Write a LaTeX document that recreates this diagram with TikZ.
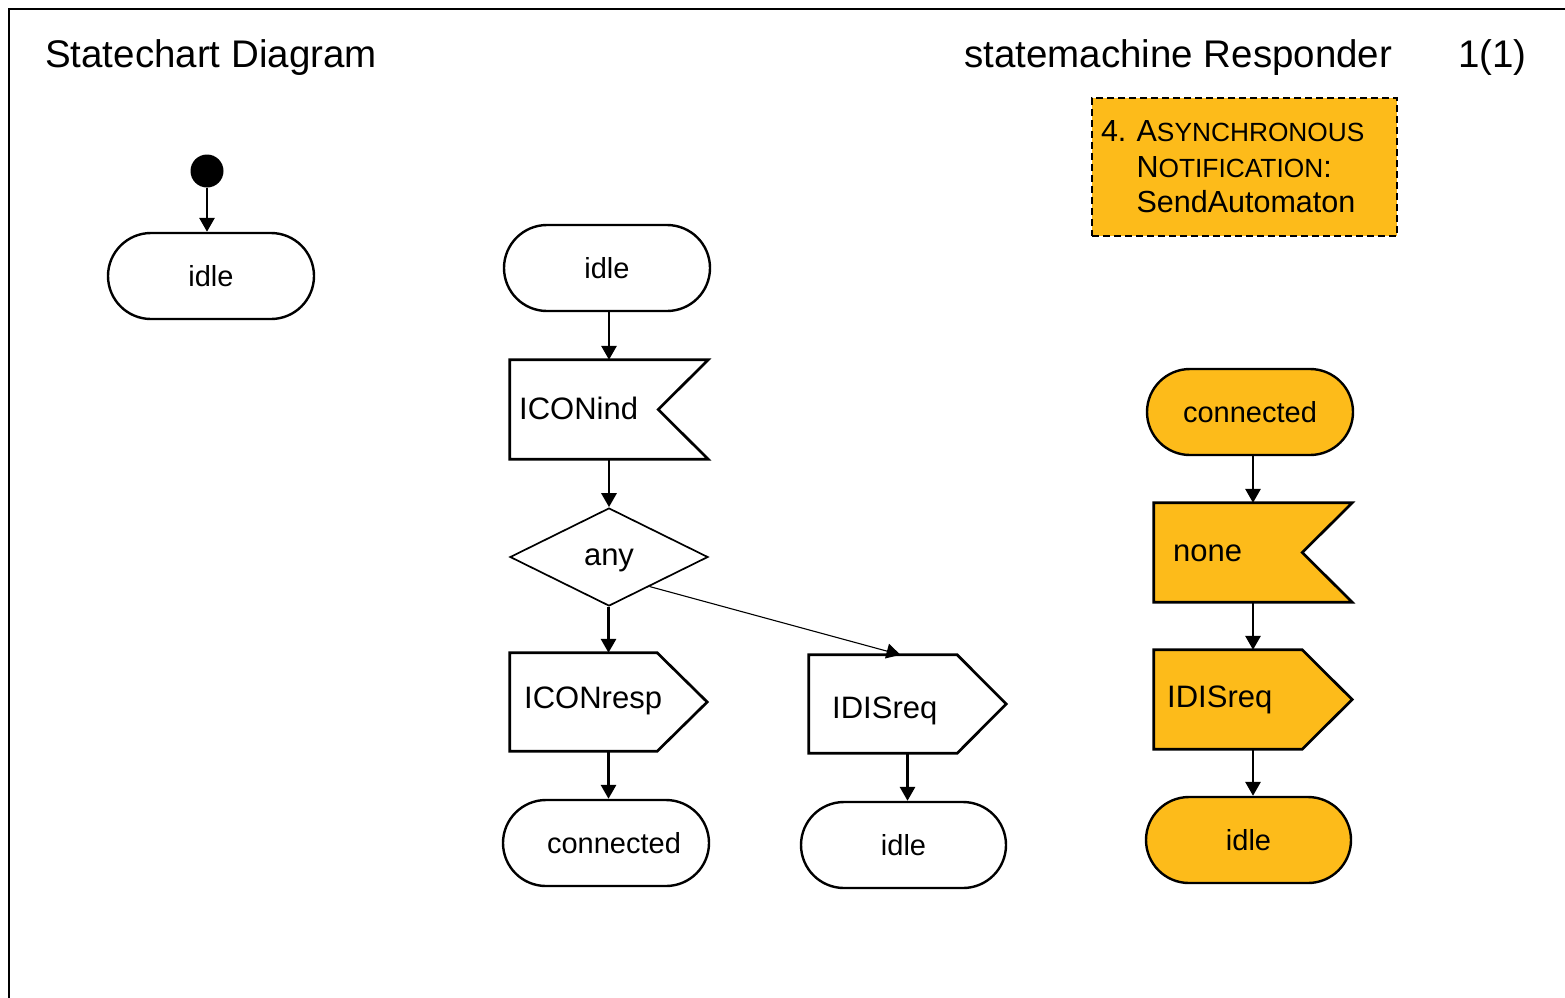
\documentclass[tikz,border=0pt]{standalone}
\usepackage{fontspec}
\setmainfont{Liberation Sans}
\usetikzlibrary{arrows.meta,shapes.geometric,calc}
\definecolor{sdlorange}{RGB}{253,187,26}
\newcommand\nodefont{\fontsize{31}{36}\selectfont}
\newcommand\statefont{\fontsize{29}{34}\selectfont}
\newcommand\titlefont{\fontsize{38.5}{45}\selectfont}
\newcommand\notefont{\fontsize{30.5}{35.5}\selectfont}
\newcommand\fakesc[1]{{\fontsize{26.3}{30}\selectfont #1}}

\begin{document}
\begin{tikzpicture}[x=1pt,y=-1pt,
  every node/.style={font=\nodefont},
  conn/.style={line width=2.9pt,-{Triangle[length=14pt,width=15pt]}},
  thinconn/.style={line width=1.1pt,-{Triangle[length=14pt,width=15pt]}},
  statebox/.style={draw,line width=2.4pt,rounded corners=43pt,minimum width=206pt,
    minimum height=86pt,inner sep=0pt,font=\statefont},
  sigbox/.style={minimum width=198pt,minimum height=99pt,inner sep=0pt},
  sigline/.style={draw,line width=2.7pt,line join=miter},
  sigtext/.style={anchor=base west,inner sep=0pt},
  decision/.style={diamond,draw,line width=1.7pt,minimum width=198pt,
    minimum height=98pt,inner sep=0pt,text depth=0pt},
  hl/.style={fill=sdlorange},
  heading/.style={anchor=base west,inner sep=0pt,font=\titlefont},
  note/.style={draw,dash pattern=on 7pt off 4pt,line width=2pt,fill=sdlorange,
    minimum width=305pt,minimum height=138pt,text width=287pt,align=left,
    inner xsep=9pt,inner ysep=0pt,font=\notefont}
]
\useasboundingbox (0,0) rectangle (1565,997);
\fill[white] (0,0) rectangle (1565,997);

% frame
\draw[line width=2.7pt,line join=miter] (9,1000) -- (9,9) -- (1568,9);

% headings
\node[heading] (title) at (45,67) {Statechart Diagram};
\node[heading] (machine) at (964,67) {statemachine Responder};
\node[heading] (page) at (1458,67) {1(1)};

% comment note
\node[note] (note) at (1244.5,167)
  {4.\ A\fakesc{SYNCHRONOUS}\\
   \phantom{4.\ }N\fakesc{OTIFICATION}:\\
   \phantom{4.\ }SendAutomaton};

% start transition
\node[circle,fill,inner sep=0pt,minimum size=33pt] (init) at (207,171) {};
\node[statebox] (idle1) at (211,276) {idle};
\draw[conn] (init) -- (init |- idle1.north);

% transition from idle
\node[statebox] (idle2) at (607,268) {idle};
\node[sigbox] (iconind) at (609,409.5) {};
\node[decision] (any) at (609,557) {any};
\node[sigbox,minimum width=197pt,minimum height=98pt] (iconresp) at (608.5,702) {};
\node[sigbox,minimum width=197pt,minimum height=98pt] (idisreq) at (907.5,704) {};
\node[statebox] (connL) at (606,843) {\hspace*{16pt}connected};
\node[statebox,minimum width=205pt] (idle3) at (903.5,845) {idle};

% transition from connected
\node[statebox,hl] (connR) at (1250,412) {connected};
\node[sigbox] (none) at (1253,552.5) {};
\node[sigbox] (idisreqR) at (1253,699.5) {};
\node[statebox,hl,minimum width=205pt] (idleR) at (1248.5,840) {idle};

% input symbols (notched on the right)
\path[sigline] (iconind.north west) -- (iconind.north east)
  -- ($(iconind.east)+(-50,0)$) -- (iconind.south east) -- (iconind.south west) -- cycle;
\path[sigline,hl] (none.north west) -- (none.north east)
  -- ($(none.east)+(-50,0)$) -- (none.south east) -- (none.south west) -- cycle;

% output symbols (pointing right)
\path[sigline] (iconresp.north west) -- ($(iconresp.north east)+(-50,0)$)
  -- (iconresp.east) -- ($(iconresp.south east)+(-50,0)$) -- (iconresp.south west) -- cycle;
\path[sigline] (idisreq.north west) -- ($(idisreq.north east)+(-49,0)$)
  -- (idisreq.east) -- ($(idisreq.south east)+(-49,0)$) -- (idisreq.south west) -- cycle;
\path[sigline,hl] (idisreqR.north west) -- ($(idisreqR.north east)+(-50,0)$)
  -- (idisreqR.east) -- ($(idisreqR.south east)+(-50,0)$) -- (idisreqR.south west) -- cycle;

% signal names
\node[sigtext] (iconind-t) at (519,419) {ICONind};
\node[sigtext] (iconresp-t) at (524,708) {ICONresp};
\node[sigtext] (idisreq-t) at (832,718) {IDISreq};
\node[sigtext] (none-t) at (1173,561) {none};
\node[sigtext] (idisreqR-t) at (1167,707) {IDISreq};

% flow lines
\draw[conn] (iconind.north |- idle2.south) -- (iconind.north);
\draw[conn] (iconind.south) -- (any.north);
\draw[conn] (iconresp.north |- any.south) -- (iconresp.north);
\draw[thinconn] (any.-36) -- ($(idisreq.north)+(-7,0)$);
\draw[conn] (iconresp.south) -- (iconresp.south |- connL.north);
\draw[conn] (idisreq.south) -- (idisreq.south |- idle3.north);
\draw[conn] (none.north |- connR.south) -- (none.north);
\draw[conn] (none.south) -- (idisreqR.north);
\draw[conn] (idisreqR.south) -- (idisreqR.south |- idleR.north);
\end{tikzpicture}
\end{document}
